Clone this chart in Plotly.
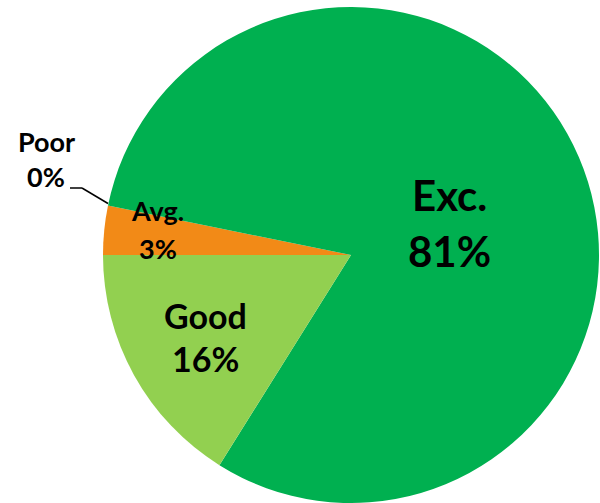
import plotly.graph_objects as go

# Data (clockwise from 9 o'clock)
labels = ["Avg.", "Poor", "Exc.", "Good"]
values = [3.2, 0.0, 80.7, 16.1]
colors = ["#F28A17", "#C00000", "#00B050", "#92D050"]

total = sum(values)
pct_text = [f"{round(v / total * 100):d}%" for v in values]

W, H = 600, 503
cx, cy, r = 351, 255, 248

fig = go.Figure(go.Pie(
    labels=labels,
    values=values,
    sort=False,
    direction="clockwise",
    rotation=270,
    marker=dict(colors=colors, line=dict(width=0)),
    textinfo="none",
    hoverinfo="label+percent",
    showlegend=False,
    domain=dict(x=[(cx - r) / W, (cx + r) / W], y=[(H - cy - r) / H, (H - cy + r) / H]),
))

# label layout: (x centre, y of name line, y of percent line, font size) in pixels
label_pos = {
    "Exc.": (449, 195, 251, 42),
    "Good": (205, 315, 358, 34),
    "Avg.": (158, 210, 248, 27),
    "Poor": (46, 141, 177, 27),
}

for lab, pct in zip(labels, pct_text):
    px, py1, py2, fs = label_pos[lab]
    for txt, py in ((lab, py1), (pct, py2)):
        fig.add_annotation(
            x=px / W, y=1 - py / H, xref="paper", yref="paper",
            text=f"<b>{txt}</b>", showarrow=False,
            font=dict(family="Lato", size=fs, color="black"),
            xanchor="center", yanchor="middle",
        )

# leader line for Poor
fig.add_shape(type="line", xref="paper", yref="paper",
              x0=70 / W, y0=1 - 188 / H, x1=82 / W, y1=1 - 188 / H,
              line=dict(color="black", width=1.5))
fig.add_shape(type="line", xref="paper", yref="paper",
              x0=82 / W, y0=1 - 188 / H, x1=108 / W, y1=1 - 203.5 / H,
              line=dict(color="black", width=1.5))

fig.update_layout(
    width=W, height=H,
    margin=dict(l=0, r=0, t=0, b=0),
    paper_bgcolor="white", plot_bgcolor="white",
)

fig.write_html("out.html", config={"displayModeBar": False},
               post_script="document.body.style.margin='0px';")
